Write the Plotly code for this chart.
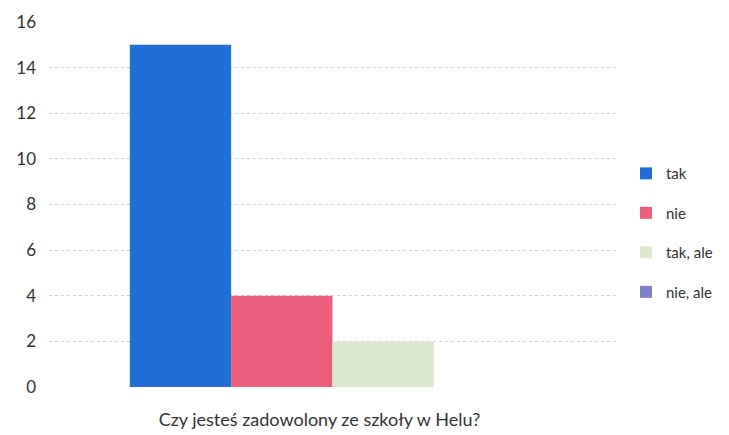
import plotly.graph_objects as go

categories = ["Czy jesteś zadowolony ze szkoły w Helu?"]
series_names = ["tak", "nie", "tak, ale", "nie, ale"]
series_values = [[15], [4], [2], [0]]
colors = ["#1f6fd6", "#ea5f7c", "#dde9cf", "#7f80c6"]
y_ticks = [0, 2, 4, 6, 8, 10, 12, 14, 16]

fig = go.Figure()
for i, (name, vals) in enumerate(zip(series_names, series_values)):
    fig.add_trace(go.Bar(
        x=categories, y=vals, name=name,
        marker=dict(color=colors[i], line=dict(width=0)),
        legendgroup=name,
    ))

fig.update_layout(
    width=729, height=435,
    margin=dict(l=41, r=121, t=14, b=56),
    paper_bgcolor="white", plot_bgcolor="white",
    barmode="group", bargap=0.285, bargroupgap=0,
    font=dict(family="Lato, 'Open Sans', sans-serif", color="#333333"),
    legend=dict(
        x=1.0176, xanchor="left", y=0.423, yanchor="middle",
        font=dict(size=15, color="#333333"),
        tracegroupgap=17, itemwidth=30,
    ),
    showlegend=True,
)
fig.update_yaxes(
    range=[0, 16], tickvals=y_ticks, showgrid=True,
    gridcolor="#d0d0d0", griddash="dot", gridwidth=1,
    zeroline=False, showline=False, automargin=False,
    tickfont=dict(size=17, color="#333333"),
    ticks="", ticklabelstandoff=12,
)
fig.update_xaxes(
    showline=False, automargin=False,
    tickfont=dict(size=18, color="#333333"),
    ticks="", ticklabelstandoff=20, ticklabelshift=-13,
)
fig.write_html("out.html")
